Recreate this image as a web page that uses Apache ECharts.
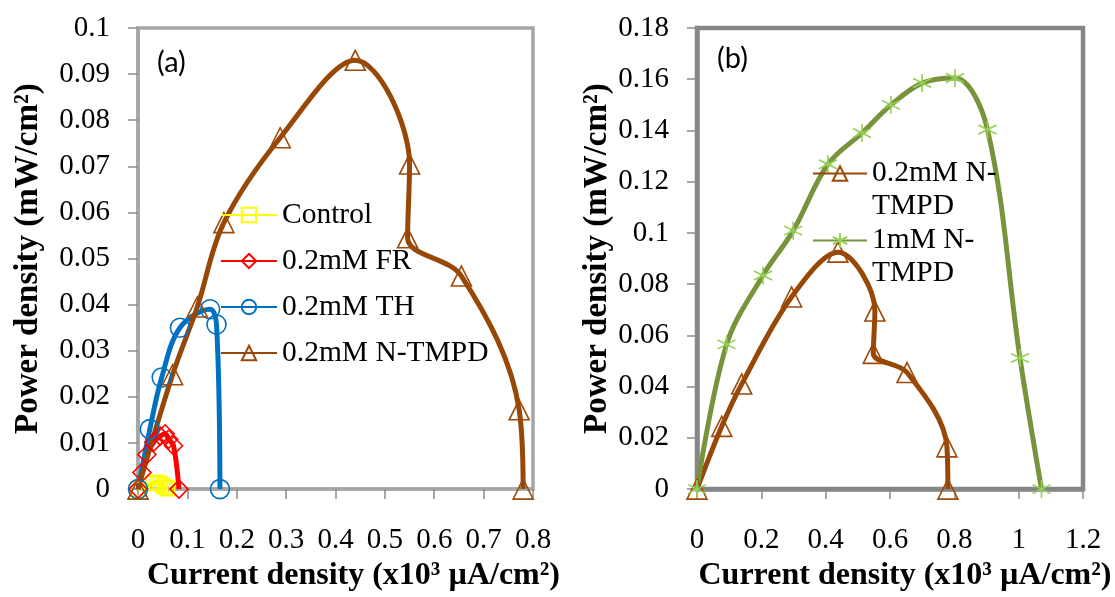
<!DOCTYPE html>
<html>
<head>
<meta charset="utf-8">
<script src="https://cdn.jsdelivr.net/npm/echarts@6/dist/echarts.min.js"></script>
<style>
html, body { margin: 0; padding: 0; background: #fff; }
#chart { width: 1115px; height: 597px; }
</style>
</head>
<body>
<div id="chart"></div>
<script>
// data (x: current density x10^3 uA/cm2, y: power density mW/cm2)
var controlX = [0, 0.03, 0.038, 0.045, 0.05, 0.055, 0.06]
var controlY = [0, 0.0012, 0.0015, 0.0012, 0.0008, 0.0004, 0.0001]

var frX = [0, 0.008, 0.018, 0.032, 0.045, 0.055, 0.062, 0.072, 0.083]
var frY = [0, 0.0036, 0.0075, 0.0102, 0.0115, 0.012, 0.0108, 0.0094, 0]

var thX = [0, 0.024, 0.048, 0.085, 0.146, 0.159, 0.166]
var thY = [0, 0.013, 0.0242, 0.035, 0.039, 0.0357, 0]

// panel (a) 0.2mM N-TMPD
var tmpdAX = [0, 0.07, 0.12, 0.174, 0.288, 0.44, 0.55, 0.546, 0.655, 0.772, 0.78]
var tmpdAY = [0, 0.0248, 0.0395, 0.0578, 0.0762, 0.093, 0.0705, 0.0545, 0.0462, 0.0172, 0]

// panel (b) 0.2mM N-TMPD
var tmpdBX = [0, 0.077, 0.139, 0.294, 0.438, 0.553, 0.548, 0.653, 0.777, 0.78]
var tmpdBY = [0, 0.0245, 0.041, 0.075, 0.0925, 0.0695, 0.053, 0.0455, 0.0165, 0]

// panel (b) 1mM N-TMPD
var tmpd1X = [0, 0.092, 0.205, 0.299, 0.407, 0.513, 0.603, 0.70, 0.802, 0.903, 1.004, 1.071]
var tmpd1Y = [0, 0.0565, 0.0834, 0.1009, 0.1268, 0.139, 0.150, 0.1585, 0.1605, 0.1404, 0.0512, 0]

var xTicksA = { min: 0, max: 0.8, interval: 0.1 }
var yTicksA = { min: 0, max: 0.1, interval: 0.01 }
var xTicksB = { min: 0, max: 1.2, interval: 0.2 }
var yTicksB = { min: 0, max: 0.18, interval: 0.02 }

function pairs (xs, ys) {
    var out = []
    for (var i = 0; i < xs.length; i++) {
        out.push([xs[i], ys[i]])
    }
    return out
}

var serif = "'Liberation Serif', 'Times New Roman', serif"
var star = 'path://M10,0 L10,20 M1.34,5 L18.66,15 M1.34,15 L18.66,5'

function lineSeries (name, data, color, markColor, symbol, size, idx) {
    return {
        name: name,
        type: 'line',
        xAxisIndex: idx,
        yAxisIndex: idx,
        data: data,
        smooth: 0.35,
        symbol: symbol,
        symbolSize: size,
        showAllSymbol: true,
        lineStyle: { color: color, width: 5 },
        itemStyle: { color: 'rgba(0,0,0,0)', borderColor: markColor, borderWidth: 1.6 },
        emphasis: { disabled: true },
        z: 2 + idx
    }
}

function makeX (t, idx, pad, axisColor, w) {
    return {
        type: 'value', gridIndex: idx, min: t.min, max: t.max, interval: t.interval,
        name: 'Current density (x10³ µA/cm²)',
        nameLocation: 'middle', nameGap: 70,
        nameTextStyle: { fontFamily: serif, fontWeight: 'bold', fontSize: 32, color: '#000', padding: pad },
        axisLine: { show: true, lineStyle: { color: axisColor, width: w } },
        axisTick: { show: true, length: 10, lineStyle: { color: '#8c8c8c', width: 1.5 } },
        axisLabel: { margin: 37, fontFamily: serif, fontSize: 29, color: '#000' },
        splitLine: { show: false }
    }
}

function makeY (t, idx, gap, axisColor, w) {
    return {
        type: 'value', gridIndex: idx, min: t.min, max: t.max, interval: t.interval,
        name: 'Power density (mW/cm²)',
        nameLocation: 'middle', nameGap: gap,
        nameTextStyle: { fontFamily: serif, fontWeight: 'bold', fontSize: 33, color: '#000' },
        axisLine: { show: true, lineStyle: { color: axisColor, width: w } },
        axisTick: { show: true, length: 10, lineStyle: { color: '#8c8c8c', width: 1.5 } },
        axisLabel: { margin: 28, fontFamily: serif, fontSize: 29, color: '#000' },
        splitLine: { show: false }
    }
}

var myChart = echarts.init(document.getElementById('chart'))

var option = {
    animation: false,
    backgroundColor: '#fff',
    textStyle: { fontFamily: serif },
    grid: [
        { left: 138, top: 28, width: 395, height: 462, show: true, borderColor: '#a6a6a6', borderWidth: 3.5 },
        { left: 697, top: 28, width: 386, height: 464, show: true, borderColor: '#868686', borderWidth: 4.5 }
    ],
    xAxis: [
        makeX(xTicksA, 0, [0, 0, 0, 36], '#a6a6a6', 3.5),
        makeX(xTicksB, 1, [0, 0, 0, 30], '#868686', 4.5)
    ],
    yAxis: [
        makeY(yTicksA, 0, 93, '#a6a6a6', 3.5),
        makeY(yTicksB, 1, 83, '#868686', 4.5)
    ],
    legend: [
        {
            data: ['Control', '0.2mM FR', '0.2mM TH', '0.2mM N-TMPD'],
            orient: 'vertical', left: 220, top: 200, padding: 0,
            itemWidth: 56, itemHeight: 18, itemGap: 16,
            textStyle: { fontFamily: serif, fontSize: 29.5, color: '#000', lineHeight: 30 }
        },
        {
            data: ['0.2mM N-TMPD '],
            formatter: function () { return '\n0.2mM N-\nTMPD' },
            orient: 'vertical', left: 812, top: 124, padding: 0,
            itemWidth: 54, itemHeight: 18,
            textStyle: { fontFamily: serif, fontSize: 29.5, color: '#000', lineHeight: 33 }
        },
        {
            data: ['1mM N-TMPD'],
            formatter: function () { return '\n1mM N-\nTMPD' },
            orient: 'vertical', left: 812, top: 191, padding: 0,
            itemWidth: 54, itemHeight: 18,
            textStyle: { fontFamily: serif, fontSize: 29.5, color: '#000', lineHeight: 33 }
        }
    ],
    graphic: [
        { type: 'text', left: 157, top: 48, style: { text: '(a)', font: '29px Lato', fill: '#000' } },
        { type: 'text', left: 717, top: 44, style: { text: '(b)', font: '29px Lato', fill: '#000' } }
    ],
    series: [
        lineSeries('Control', pairs(controlX, controlY), '#ffff00', '#ffff00', 'rect', 14, 0),
        lineSeries('0.2mM FR', pairs(frX, frY), '#ff0000', '#ff0000', 'diamond', 18, 0),
        lineSeries('0.2mM TH', pairs(thX, thY), '#0070c0', '#0070c0', 'circle', 19, 0),
        lineSeries('0.2mM N-TMPD', pairs(tmpdAX, tmpdAY), '#974706', '#9c4a0a', 'triangle', 20, 0),
        lineSeries('0.2mM N-TMPD ', pairs(tmpdBX, tmpdBY), '#974706', '#9c4a0a', 'triangle', 20, 1),
        lineSeries('1mM N-TMPD', pairs(tmpd1X, tmpd1Y), '#77933c', '#92d050', star, 18, 1)
    ]
}

myChart.setOption(option)
</script>
</body>
</html>
